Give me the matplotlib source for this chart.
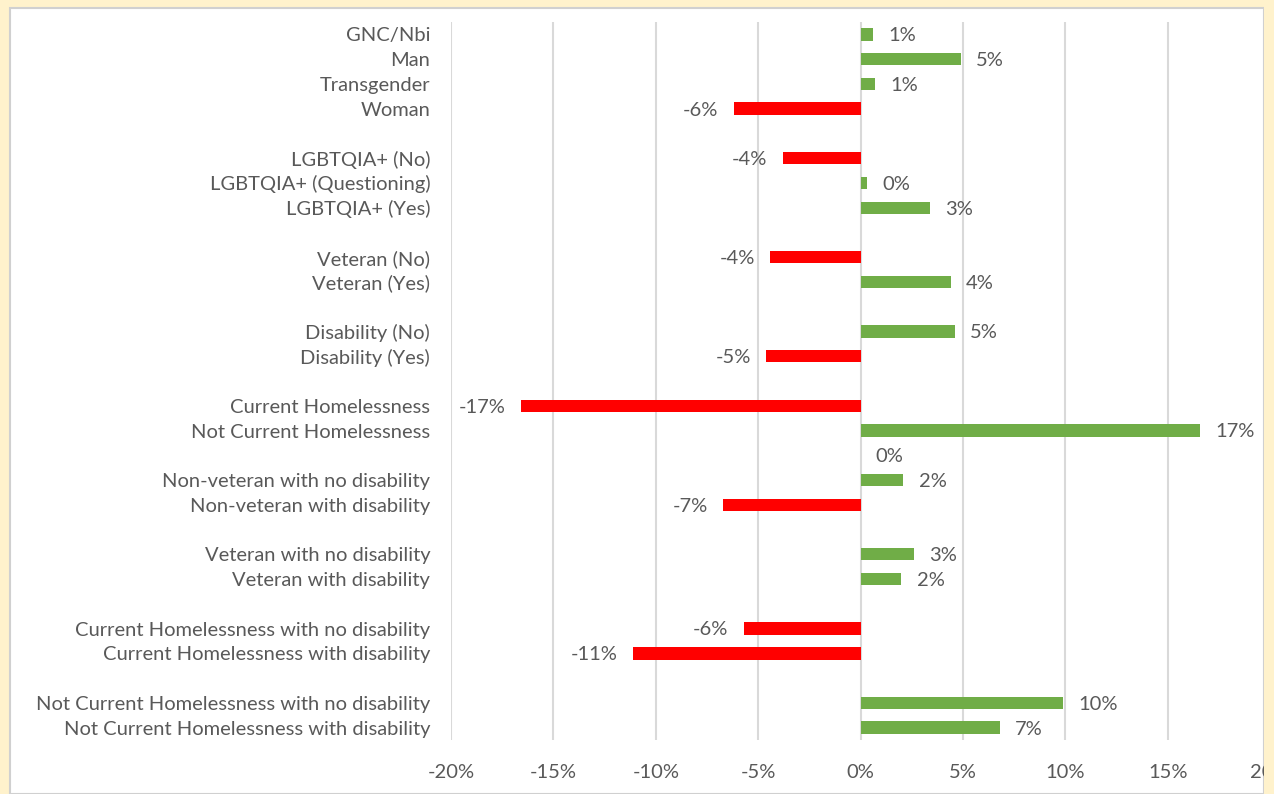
import matplotlib.pyplot as plt
from matplotlib.patches import Rectangle

categories = [
    "GNC/Nbi", "Man", "Transgender", "Woman", "",
    "LGBTQIA+ (No)", "LGBTQIA+ (Questioning)", "LGBTQIA+ (Yes)", "",
    "Veteran (No)", "Veteran (Yes)", "",
    "Disability (No)", "Disability (Yes)", "",
    "Current Homelessness", "Not Current Homelessness", "",
    "Non-veteran with no disability", "Non-veteran with disability", "",
    "Veteran with no disability", "Veteran with disability", "",
    "Current Homelessness with no disability", "Current Homelessness with disability", "",
    "Not Current Homelessness with no disability", "Not Current Homelessness with disability",
]
values = [
    0.6, 4.9, 0.7, -6.2, None,
    -3.8, 0.3, 3.4, None,
    -4.4, 4.4, None,
    4.6, -4.6, None,
    -16.6, 16.6, 0.0,
    2.1, -6.7, None,
    2.6, 2.0, None,
    -5.7, -11.1, None,
    9.9, 6.8,
]
ticks = [-20, -15, -10, -5, 0, 5, 10, 15, 20]

green = "#70AD47"
red = "#FF0000"
grey = "#595959"
fs = 14.5

plt.rcParams["font.family"] = ["Lato", "DejaVu Sans"]

fig = plt.figure(figsize=(12.74, 7.94), dpi=100)
fig.patch.set_facecolor("#FFF2CC")
W, H = 1274, 794
fig.patches.append(Rectangle((10 / W, 0), (1264 - 10) / W, 1 - 8 / H,
                             transform=fig.transFigure, facecolor="white",
                             edgecolor="#D0D0D0", linewidth=1.5, zorder=-1))

ax = fig.add_axes([451 / W, 1 - 740 / H, (1270 - 451) / W, (740 - 22) / H])
ax.set_facecolor("none")

ys = list(range(len(categories)))
for y, v in zip(ys, values):
    if v is None:
        continue
    if v != 0:
        ax.barh(y, v, height=0.5, color=green if v > 0 else red, zorder=3)
    lab = f"{round(v):d}%"
    if v >= 0:
        ax.annotate(lab, (v, y), xytext=(11, -1), textcoords="offset points",
                    ha="left", va="center", fontsize=fs, color=grey)
    else:
        ax.annotate(lab, (v, y), xytext=(-11, -1), textcoords="offset points",
                    ha="right", va="center", fontsize=fs, color=grey)

ax.set_xlim(-20, 20)
ax.set_ylim(len(categories) - 0.5, -0.5)
ax.set_yticks(ys)
ax.set_yticklabels(categories, fontsize=fs, color=grey)
ax.set_xticks(ticks)
ax.set_xticklabels([f"{t}%" for t in ticks], fontsize=fs, color=grey)
ax.tick_params(axis="y", length=0, pad=15)
ax.tick_params(axis="x", length=0, pad=17)
ax.grid(axis="x", color="#D9D9D9", linewidth=1.5, zorder=0)
for s in ax.spines.values():
    s.set_visible(False)

fig.patches.append(Rectangle((1264 / W, 0), 1, 1, transform=fig.transFigure,
                             facecolor="#FFF2CC", edgecolor="none", zorder=10))

fig.savefig("out.png", dpi=100)
